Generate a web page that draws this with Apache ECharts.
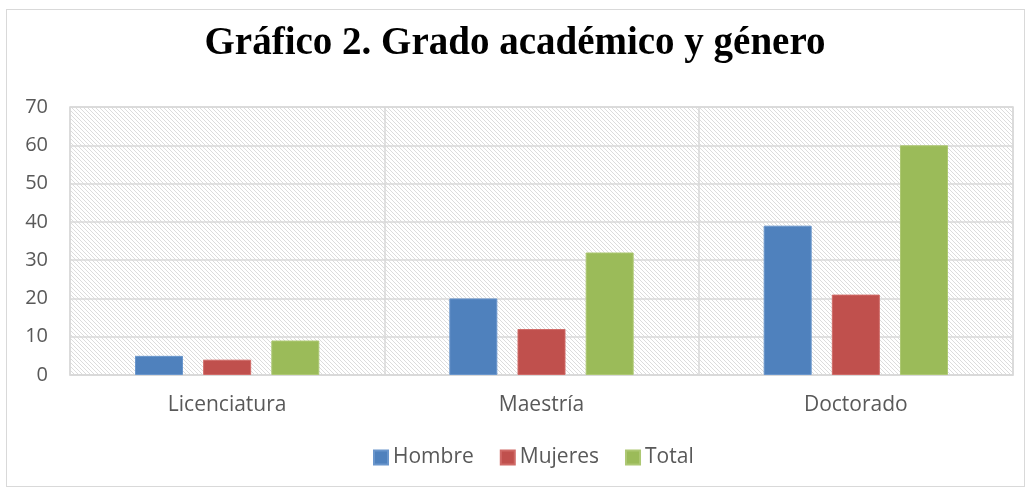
<!DOCTYPE html>
<html>
<head>
<meta charset="utf-8">
<script src="https://cdn.jsdelivr.net/npm/echarts@6/dist/echarts.min.js"></script>
<style>
  html, body { margin: 0; padding: 0; background: #fff; }
  #chart { width: 1030px; height: 488px; position: relative; }
  #frame { position: absolute; border: 1.5px solid #d9d9d9; pointer-events: none; }
</style>
</head>
<body>
<div id="chart"></div>
<div id="frame" style="left:6px;top:9px;width:1017px;height:476px;"></div>
<script>
const categories = ['Licenciatura', 'Maestría', 'Doctorado'];
const hombre = [5, 20, 39];
const mujeres = [4, 12, 21];
const total = [9, 32, 60];

// hatched background for the plot area
function hatch() {
    const c = document.createElement('canvas');
    c.width = 8; c.height = 8;
    const g = c.getContext('2d');
    g.fillStyle = '#ffffff';
    g.fillRect(0, 0, 8, 8);
    g.strokeStyle = '#dcdcdc';
    g.lineWidth = 1;
    g.beginPath();
    for (let k = -8; k <= 16; k += 4) {
        g.moveTo(k, 0);
        g.lineTo(k + 8, 8);
    }
    g.stroke();
    return c;
}

const chart = echarts.init(document.getElementById('chart'));
const labelColor = '#595959';
const font = 'Open Sans, Noto Sans, sans-serif';

chart.setOption({
    animation: false,
    title: {
        text: 'Gráfico 2. Grado académico y género',
        left: 'center',
        top: 19,
        textStyle: { fontFamily: 'Liberation Serif, serif', fontWeight: 'bold', fontSize: 39, color: '#000' }
    },
    legend: {
        data: ['Hombre', 'Mujeres', 'Total'],
        bottom: 15,
        left: 368,
        itemWidth: 14,
        itemHeight: 14,
        itemGap: 26,
        icon: 'rect',
        textStyle: { fontFamily: font, fontSize: 21, color: labelColor }
    },
    grid: {
        left: 70, right: 17, top: 107, bottom: 113,
        show: true,
        backgroundColor: { image: hatch(), repeat: 'repeat' },
        borderColor: '#d9d9d9',
        borderWidth: 1.5
    },
    xAxis: {
        type: 'category',
        data: categories,
        axisTick: { show: false },
        axisLine: { lineStyle: { color: '#d9d9d9', width: 1.5 } },
        splitLine: { show: true, lineStyle: { color: '#d9d9d9', width: 1.5 } },
        axisLabel: { fontFamily: font, fontSize: 21, color: labelColor, margin: 20 }
    },
    yAxis: {
        type: 'value',
        min: 0, max: 70, interval: 10,
        axisLine: { show: false },
        axisTick: { show: false },
        splitLine: { lineStyle: { color: '#d9d9d9', width: 1.5 } },
        axisLabel: { fontFamily: font, fontSize: 20, color: labelColor, margin: 22 }
    },
    series: [
        { name: 'Hombre', type: 'bar', data: hombre, barWidth: 48, barGap: '42%',
          itemStyle: { color: '#4f81bd', borderColor: '#6a96cc', borderWidth: 1 } },
        { name: 'Mujeres', type: 'bar', data: mujeres, barWidth: 48,
          itemStyle: { color: '#c0504d', borderColor: '#d06a67', borderWidth: 1 } },
        { name: 'Total', type: 'bar', data: total, barWidth: 48,
          itemStyle: { color: '#9bbb59', borderColor: '#adc873', borderWidth: 1 } }
    ]
});
</script>
</body>
</html>
